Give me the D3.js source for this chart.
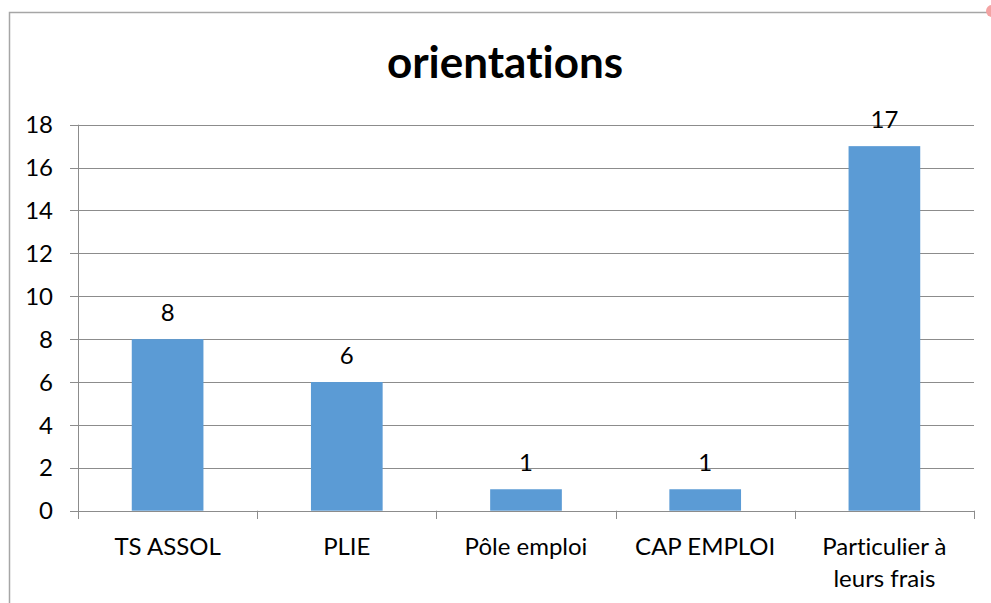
<!DOCTYPE html>
<html>
<head>
<meta charset="utf-8">
<script src="https://cdn.jsdelivr.net/npm/d3@7"></script>
<style>
  body { margin: 0; background: #fff; }
  svg { display: block; font-family: Lato, "Open Sans", sans-serif; font-variant-ligatures: none; }
</style>
</head>
<body>
<div id="chart"></div>
<script>
// values
var categories = ["TS ASSOL", "PLIE", "Pôle emploi", "CAP EMPLOI", "Particulier à leurs frais"];
var labelLines = [["TS ASSOL"], ["PLIE"], ["Pôle emploi"], ["CAP EMPLOI"], ["Particulier à", "leurs frais"]];
var values = [8, 6, 1, 1, 17];
var yTicks = [0, 2, 4, 6, 8, 10, 12, 14, 16, 18];
var title = "orientations";

var width = 991,
    height = 603;

var svg = d3.select("#chart")
    .append("svg")
    .attr("width", width)
    .attr("height", height);

// chart frame (right and bottom edges fall outside the picture)
svg.append("path")
    .attr("d", "M9.5,603 L9.5,12.5 L988,12.5")
    .attr("fill", "none")
    .attr("stroke", "#a6a6a6")
    .attr("stroke-width", 1.5);

svg.append("circle")
    .attr("cx", 992)
    .attr("cy", 11)
    .attr("r", 6)
    .attr("fill", "#f4a3a3");

var x = d3.scaleBand()
    .domain(categories)
    .range([78, 974]);

var y = d3.scaleLinear()
    .domain([0, 18])
    .range([510.7, 124.7]);

// gridlines
svg.append("g")
    .selectAll("line")
    .data(yTicks)
    .enter()
    .append("line")
    .attr("x1", 70)
    .attr("x2", 974)
    .attr("y1", d => Math.round(y(d)) + 0.5)
    .attr("y2", d => Math.round(y(d)) + 0.5)
    .attr("stroke", "#8c8c8c")
    .attr("stroke-width", 1);

// y labels
svg.append("g")
    .selectAll("text")
    .data(yTicks)
    .enter()
    .append("text")
    .attr("x", 53)
    .attr("y", d => y(d))
    .attr("dy", "0.36em")
    .attr("text-anchor", "end")
    .attr("font-size", 24)
    .attr("fill", "#000")
    .text(d => d);

// bars
var barW = x.bandwidth() * 0.4;
svg.append("g")
    .selectAll("rect")
    .data(values)
    .enter()
    .append("rect")
    .attr("x", (d, i) => x(categories[i]) + x.bandwidth() / 2 - barW / 2)
    .attr("y", d => y(d))
    .attr("width", barW)
    .attr("height", d => y(0) - y(d))
    .attr("fill", "#5b9bd5");

// axes lines
svg.append("line")
    .attr("x1", 78.5).attr("x2", 78.5)
    .attr("y1", y(18)).attr("y2", 519)
    .attr("stroke", "#8c8c8c");

svg.append("g")
    .selectAll("line")
    .data(categories.concat(["end"]))
    .enter()
    .append("line")
    .attr("x1", (d, i) => Math.round(78 + i * x.bandwidth()) + 0.5)
    .attr("x2", (d, i) => Math.round(78 + i * x.bandwidth()) + 0.5)
    .attr("y1", y(0))
    .attr("y2", 519)
    .attr("stroke", "#8c8c8c");

// value labels
svg.append("g")
    .selectAll("text")
    .data(values)
    .enter()
    .append("text")
    .attr("x", (d, i) => x(categories[i]) + x.bandwidth() / 2)
    .attr("y", d => y(d) - 18)
    .attr("text-anchor", "middle")
    .attr("font-size", 24)
    .attr("fill", "#000")
    .text(d => d);

// category labels
var cat = svg.append("g")
    .selectAll("text")
    .data(labelLines)
    .enter()
    .append("text")
    .attr("x", (d, i) => x(categories[i]) + x.bandwidth() / 2)
    .attr("y", 555)
    .attr("text-anchor", "middle")
    .attr("font-size", 24)
    .attr("fill", "#000");

cat.selectAll("tspan")
    .data(d => d)
    .enter()
    .append("tspan")
    .attr("x", function () { return d3.select(this.parentNode).attr("x"); })
    .attr("dy", (d, i) => i == 0 ? 0 : 32)
    .text(d => d);

// title
svg.append("text")
    .attr("x", 505)
    .attr("y", 78)
    .attr("text-anchor", "middle")
    .attr("font-size", 44)
    .attr("font-weight", "bold")
    .attr("fill", "#000")
    .text(title);
</script>
</body>
</html>
